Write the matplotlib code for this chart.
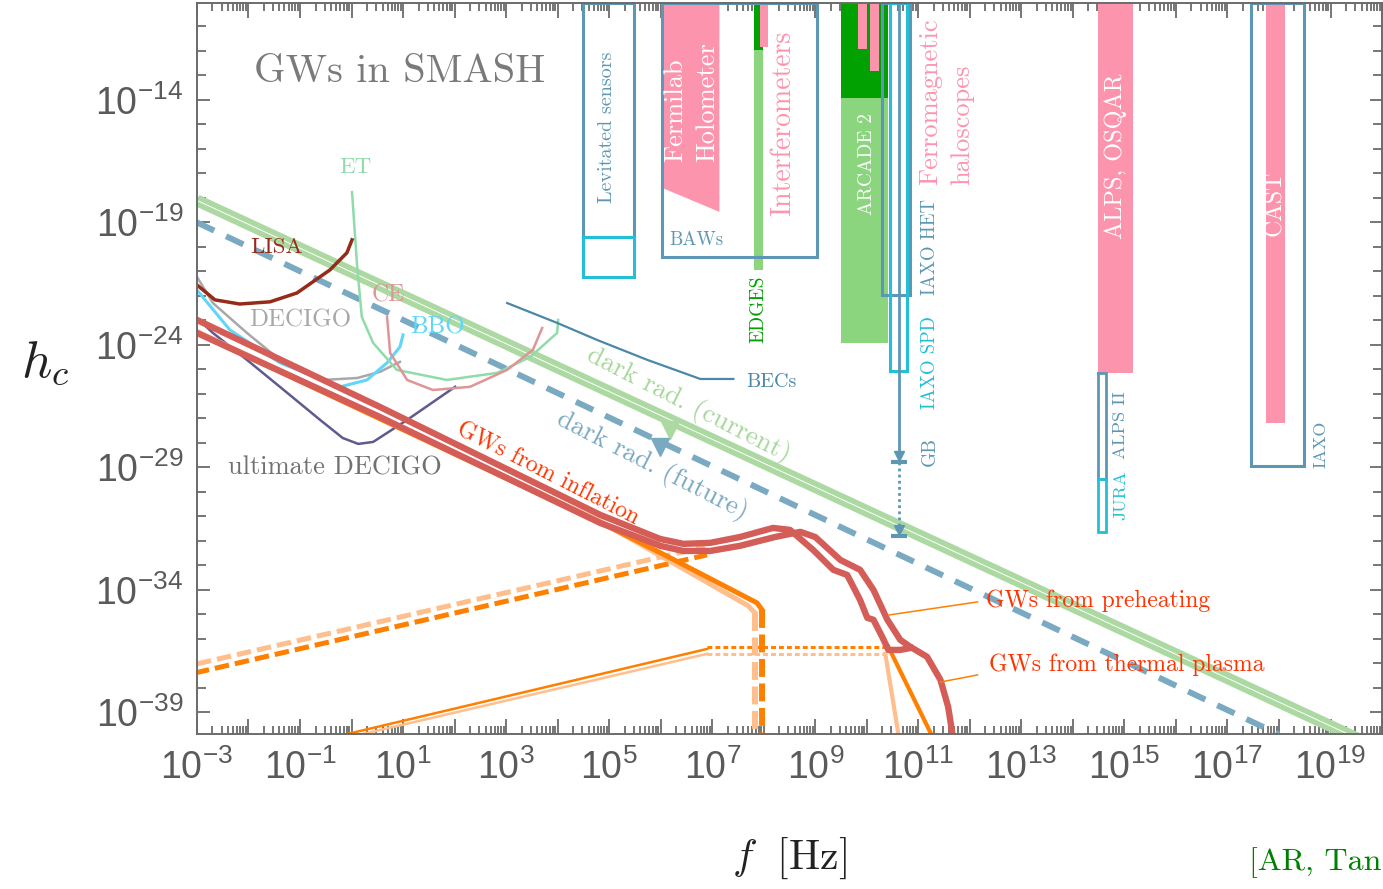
import numpy as np
import matplotlib
matplotlib.use("Agg")
import matplotlib.pyplot as plt
from matplotlib.ticker import FixedLocator, FuncFormatter, NullFormatter

plt.rcParams['mathtext.fontset'] = 'custom'
plt.rcParams['mathtext.rm'] = 'Liberation Sans'
plt.rcParams['mathtext.it'] = 'Liberation Sans:italic'
plt.rcParams['mathtext.bf'] = 'Liberation Sans:bold'

# all values below are log10(f / Hz) and log10(h_c)

# detector sensitivity curves
lisa_x = [-3.0, -2.65, -2.17, -1.58, -1.06, -0.42, -0.09, 0.01]
lisa_y = [-21.55, -22.16, -22.33, -22.24, -21.88, -20.94, -20.24, -19.71]
decigo_x = [-3.0, -2.69, -2.03, -1.39, -0.55, 0.11, 0.55, 0.94]
decigo_y = [-21.22, -22.29, -23.51, -24.61, -25.43, -25.35, -25.10, -24.69]
bbo_x = [-3.0, -2.36, -1.39, -0.22, 0.30, 0.69, 0.94, 1.0]
bbo_y = [-21.76, -23.39, -24.73, -25.71, -25.43, -24.73, -24.08, -23.59]
udecigo_x = [-3.0, -2.69, -2.03, -1.39, -0.61, -0.17, 0.13, 0.42, 1.08, 2.01]
udecigo_y = [-22.90, -23.51, -24.61, -25.71, -27.06, -27.80, -28.04, -27.96, -27.06, -25.71]
et_x = [0.01, 0.11, 0.20, 0.42, 0.88, 1.85, 2.83, 3.47, 3.99, 4.01]
et_y = [-17.76, -20.82, -22.86, -23.92, -25.02, -25.43, -25.14, -24.49, -23.51, -22.98]
ce_x = [0.69, 0.75, 1.08, 1.58, 2.30, 3.02, 3.52, 3.70]
ce_y = [-22.86, -24.33, -25.43, -25.84, -25.71, -25.02, -24.20, -23.31]
bec_x = [3.02, 3.99, 4.77, 5.74, 6.77, 7.41]
bec_y = [-22.29, -23.10, -23.80, -24.61, -25.39, -25.39]

# dark radiation bounds
darkrad_now_x = [-3.0, 20.0]
darkrad_now_y = [-18.10, -40.53]
darkrad_fut_x = [-3.0, 18.0]
darkrad_fut_y = [-19.0, -39.9]

# GWs from inflation + preheating + thermal plasma (total, two models)
total_a_x = [-3.0, 0.55, 4.83, 5.60, 5.99, 6.44, 6.96, 7.54, 8.18, 8.51, 8.96, 9.35,
             9.62, 9.87, 10.01, 10.13, 10.30, 10.42, 10.65, 10.85]
total_a_y = [-22.98, -26.53, -30.94, -31.59, -31.92, -32.12, -32.08, -31.84, -31.47,
             -31.55, -32.37, -33.18, -33.39, -34.41, -35.14, -35.22, -35.92, -36.45,
             -36.45, -36.37]
total_b_x = [-3.0, 0.55, 4.83, 5.60, 5.99, 6.44, 6.96, 7.54, 8.22, 8.71, 9.0, 9.49,
             9.87, 10.13, 10.40, 10.65, 10.85, 11.17, 11.43, 11.58, 11.68]
total_b_y = [-23.51, -26.94, -31.27, -31.88, -32.20, -32.41, -32.41, -32.20, -31.84,
             -31.63, -31.84, -32.78, -33.18, -34.0, -35.22, -36.04, -36.33, -36.73,
             -37.67, -38.78, -40.12]

# inflation part (dark = model 1, light = model 2)
infl_dark_x = [-3.0, 4.83, 5.99, 7.87, 7.97]
infl_dark_y = [-23.50, -31.25, -32.48, -34.53, -34.82]
infl_light_x = [-3.0, 4.83, 5.99, 7.70, 7.83]
infl_light_y = [-23.45, -31.20, -32.60, -34.65, -34.94]
cut_dark_x, cut_light_x = 7.97, 7.83
cut_dark_y, cut_light_y = [-34.82, -40.2], [-34.94, -40.2]

# preheating low-frequency tails
preh_dark_x = [-3.04, 6.90]
preh_dark_y = [-37.39, -32.57]
preh_light_x = [-3.0, 6.86]
preh_light_y = [-37.02, -32.24]

# thermal plasma
therm_dark_x = [-0.30, 6.90]
therm_dark_y = [-39.99, -36.41]
therm_light_x = [0.0, 6.90]
therm_light_y = [-39.99, -36.61]
therm_dark_flat_x = [6.90, 10.42]
therm_dark_flat_y = [-36.33, -36.33]
therm_light_flat_x = [6.90, 10.36]
therm_light_flat_y = [-36.61, -36.61]
therm_dark_tail_x = [10.42, 11.30]
therm_dark_tail_y = [-36.33, -40.1]
therm_light_tail_x = [10.36, 10.63]
therm_light_tail_y = [-36.61, -40.1]

# experiments (frequency band and reach)
top = -10.04
lev_x = [4.50, 5.49]
lev_bottom, lev_cyan_bottom = -19.59, -21.22
holo_x = [6.03, 7.14]
holo_bottom = [-17.59, -18.57]
baw_x = [6.03, 9.04]
baw_bottom = -20.41
interf_x = [7.92, 8.09]
interf_bottom = -11.84
edges_x = [7.82, 7.99]
edges_dark_bottom, edges_light_bottom = -11.96, -20.94
arcade_x = [9.50, 10.42]
arcade_dark_bottom, arcade_light_bottom = -13.92, -23.92
ferro1_x, ferro1_bottom = [9.83, 10.01], -11.92
ferro2_x, ferro2_bottom = [10.07, 10.24], -12.82
het_x, het_bottom = [10.30, 10.83], -21.96
spd_x, spd_bottom = [10.46, 10.79], -25.06
gb_x = 10.62
gb_y = [-28.78, -31.80]
alps_x, alps_bottom = [14.48, 15.17], -25.14
alps2_x, alps2_bottom, jura_bottom = [14.48, 14.65], -29.47, -31.63
cast_x, cast_bottom = [17.74, 18.11], -27.18
iaxo_x, iaxo_bottom = [17.45, 18.48], -28.94

x_major = list(range(-3, 21))
y_major = [-39, -34, -29, -24, -19, -14]
y_minor = list(range(-39, -9))


def P(v):
    return 10.0 ** np.asarray(v, dtype=float)


c_blue = '#5d97b4'
c_cyan = '#22bfd6'
c_pink = '#fd94ae'
c_dgreen = '#00a100'
c_lgreen = '#8bd57f'
c_red = '#d45d58'
c_orange = '#ff8000'
c_lorange = '#ffbe8c'
c_txt = '#ff3300'
serif = 'cmr10'

fig = plt.figure(figsize=(13.83, 8.89), dpi=100)
ax = fig.add_axes([0.1424, 0.1744, 0.8569, 0.8223])
ax.set_xscale('log')
ax.set_yscale('log')
ax.set_xlim(1e-3, 1e20)
ax.set_ylim(10 ** -39.88, 10 ** top)


def outline(xs, y0, y1, color, lw=2.2):
    ax.plot(P([xs[0], xs[0], xs[1], xs[1], xs[0]]), P([y0, y1, y1, y0, y0]),
            color=color, lw=lw, solid_joinstyle='miter', zorder=4)


def fillbar(xs, ytop, ybot, color):
    ax.fill(P([xs[0], xs[0], xs[1], xs[1]]), P([ytop, ybot, ybot, ytop]),
            color=color, lw=0, zorder=3)


# experiment bars
fillbar(arcade_x, arcade_dark_bottom, arcade_light_bottom, c_lgreen)
fillbar(arcade_x, top, arcade_dark_bottom, c_dgreen)
fillbar(ferro1_x, top, ferro1_bottom, c_pink)
fillbar(ferro2_x, top, ferro2_bottom, c_pink)
fillbar(edges_x, edges_dark_bottom, edges_light_bottom, c_lgreen)
fillbar(edges_x, top, edges_dark_bottom, c_dgreen)
fillbar(interf_x, top, interf_bottom, c_pink)
ax.fill(P([holo_x[0], holo_x[0], holo_x[1], holo_x[1]]),
        P([top, holo_bottom[0], holo_bottom[1], top]), color=c_pink, lw=0, zorder=3)
fillbar(alps_x, top, alps_bottom, c_pink)
fillbar(cast_x, top, cast_bottom, c_pink)

outline(lev_x, top, lev_bottom, c_blue)
outline(lev_x, lev_bottom, lev_cyan_bottom, c_cyan)
outline(baw_x, top, baw_bottom, c_blue)
outline(het_x, top, het_bottom, c_blue)
outline(spd_x, top, spd_bottom, c_cyan)
outline(alps2_x, alps_bottom, alps2_bottom, c_blue, lw=2)
outline(alps2_x, alps2_bottom, jura_bottom, c_cyan, lw=2)
outline(iaxo_x, top, iaxo_bottom, c_blue)

# GB arrow
ax.plot(P([gb_x, gb_x]), P([top, gb_y[0] + 0.15]), color=c_blue, lw=2, zorder=4)
ax.plot(P([gb_x, gb_x]), P([gb_y[0], gb_y[1] + 0.15]), color=c_blue, lw=2,
        ls=(0, (1, 1.2)), zorder=4)
for yy in gb_y:
    ax.plot(P(gb_x), P(yy + 0.25), marker='v', ms=7, color=c_blue, zorder=4)
    ax.plot(P(gb_x), P(yy), marker='_', ms=11, mew=3, color=c_blue, zorder=4)

# dark radiation bounds
ax.plot(P(darkrad_now_x), P(darkrad_now_y), color='#acd9a2', lw=8.5,
        solid_capstyle='butt', zorder=2)
ax.plot(P(darkrad_now_x), P(darkrad_now_y), color='white', lw=0.7, zorder=2)
ax.plot(P(darkrad_fut_x), P(darkrad_fut_y), color='#7aa9c2', lw=4.3,
        dashes=(3.2, 2.2), zorder=2)
ax.plot(P(6.18), P(-27.47), marker='v', ms=13, color='#acd9a2', zorder=2)
ax.plot(P(5.99), P(-28.16), marker='v', ms=13, color='#7aa9c2', zorder=2)

# detector curves
ax.plot(P(udecigo_x), P(udecigo_y), color='#5e5b8f', lw=1.8, zorder=5)
ax.plot(P(decigo_x), P(decigo_y), color='#a8a8a8', lw=1.8, zorder=5)
ax.plot(P(bbo_x), P(bbo_y), color='#5fd6fa', lw=2.2, zorder=5)
ax.plot(P(et_x), P(et_y), color='#8fdcaa', lw=1.8, zorder=5)
ax.plot(P(ce_x), P(ce_y), color='#df9595', lw=1.8, zorder=5)
ax.plot(P(lisa_x), P(lisa_y), color='#962b1a', lw=2.5, zorder=5)
ax.plot(P(bec_x), P(bec_y), color='#4b87a8', lw=1.6, zorder=5)

# GW spectra
ax.plot(P(preh_light_x), P(preh_light_y), color=c_lorange, lw=3.6, dashes=(2.9, 1.2), zorder=6)
ax.plot(P(preh_dark_x), P(preh_dark_y), color=c_orange, lw=3.6, dashes=(2.9, 1.2), zorder=6)
ax.plot(P(therm_light_x), P(therm_light_y), color=c_lorange, lw=1.8, zorder=6)
ax.plot(P(therm_dark_x), P(therm_dark_y), color=c_orange, lw=1.8, zorder=6)
ax.plot(P(therm_light_flat_x), P(therm_light_flat_y), color=c_lorange, lw=2.2,
        dashes=(1.6, 1.0), zorder=6)
ax.plot(P(therm_dark_flat_x), P(therm_dark_flat_y), color=c_orange, lw=2.2,
        dashes=(1.6, 1.0), zorder=6)
ax.plot(P(therm_light_tail_x), P(therm_light_tail_y), color=c_lorange, lw=3, zorder=6)
ax.plot(P(therm_dark_tail_x), P(therm_dark_tail_y), color=c_orange, lw=3, zorder=6)
ax.plot(P(infl_light_x), P(infl_light_y), color=c_lorange, lw=3.6, zorder=6)
ax.plot(P(infl_dark_x), P(infl_dark_y), color=c_orange, lw=3.6, zorder=6)
ax.plot(P([cut_light_x] * 2), P(cut_light_y), color=c_lorange, lw=4.3, dashes=(3, 1.1), zorder=6)
ax.plot(P([cut_dark_x] * 2), P(cut_dark_y), color=c_orange, lw=4.3, dashes=(3, 1.1), zorder=6)
ax.plot(P(total_a_x), P(total_a_y), color=c_red, lw=4.6, zorder=7,
        solid_joinstyle='round')
ax.plot(P(total_b_x), P(total_b_y), color=c_red, lw=4.6, zorder=7,
        solid_joinstyle='round')

# pointer lines
ax.plot(P([10.44, 12.15]), P([-35.02, -34.49]), color=c_orange, lw=1.1, zorder=7)
ax.plot(P([11.43, 12.15]), P([-37.76, -37.47]), color=c_orange, lw=1.1, zorder=7)


def label(x, y, s, color, size, rot=0, ha='center', va='center', **kw):
    ax.text(P(x), P(y), s, color=color, fontsize=size, rotation=rot,
            rotation_mode='anchor', ha=ha, va=va, family=serif, zorder=8, **kw)


label(0.94, -12.86, 'GWs in SMASH', '#7a7a7a', 29)
label(0.07, -16.73, 'ET', '#8fdcaa', 16.5)
label(-1.45, -20.0, 'LISA', '#962b1a', 16.5)
label(0.71, -22.0, 'CE', '#df9595', 17)
label(-1.0, -22.98, 'DECIGO', '#a8a8a8', 18)
label(1.66, -23.27, 'BBO', '#5fd6fa', 18)
label(-0.32, -29.02, 'ultimate DECIGO', '#707070', 19)
label(8.15, -25.51, 'BECs', '#4b87a8', 14.5)
label(6.53, -26.45, 'dark rad. (current)', '#a6d79c', 19.5, rot=-27)
label(5.83, -28.94, 'dark rad. (future)', '#7aa9c2', 19.5, rot=-27)
label(3.80, -29.27, 'GWs from inflation', c_txt, 17, rot=-27)
label(12.32, -34.45, 'GWs from preheating', c_txt, 17, ha='left')
label(12.38, -37.06, 'GWs from thermal plasma', c_txt, 17, ha='left')

label(4.96, -15.10, 'Levitated sensors', c_blue, 14.5, rot=90)
label(6.28, -16.53, 'Fermilab', 'white', 19, rot=90, ha='left')
label(6.90, -16.53, 'Holometer', 'white', 19, rot=90, ha='left')
label(6.69, -19.71, 'BAWs', c_blue, 13.5)
label(8.38, -14.94, 'Interferometers', c_pink, 20, rot=90)
label(7.89, -22.53, 'EDGES', c_dgreen, 14, rot=90)
label(10.01, -16.61, 'ARCADE 2', 'white', 14, rot=90)
label(11.23, -17.47, 'Ferromagnetic', c_pink, 19, rot=90, ha='left')
label(11.85, -17.47, 'haloscopes', c_pink, 19, rot=90, ha='left')
label(11.23, -21.96, 'IAXO HET', c_blue, 13.5, rot=90, ha='left')
label(11.23, -26.61, 'IAXO SPD', c_cyan, 13.5, rot=90, ha='left')
label(11.23, -28.94, 'GB', c_blue, 14, rot=90, ha='left')
label(14.83, -16.29, 'ALPS, OSQAR', 'white', 17.5, rot=90)
label(14.92, -28.65, 'ALPS II', c_blue, 13.3, rot=90, ha='left')
label(14.92, -31.14, 'JURA', c_cyan, 13, rot=90, ha='left')
label(17.93, -18.24, 'CAST', 'white', 17, rot=90)
label(18.81, -29.02, 'IAXO', c_blue, 13, rot=90, ha='left')

# axes styling
for sp in ax.spines.values():
    sp.set_color('#6b6b6b')
    sp.set_linewidth(1.4)
    sp.set_zorder(9)

ax.xaxis.set_major_locator(FixedLocator(P(x_major)))
ax.xaxis.set_minor_locator(FixedLocator(
    [m * 10.0 ** k for k in x_major[:-1] for m in range(2, 10)]))
ax.yaxis.set_major_locator(FixedLocator(P(y_major)))
ax.yaxis.set_minor_locator(FixedLocator(P(y_minor)))


def xfmt(v, pos):
    k = int(round(np.log10(v)))
    return r'$10^{%d}$' % k if k % 2 else ''


ax.xaxis.set_major_formatter(FuncFormatter(xfmt))
ax.yaxis.set_major_formatter(FuncFormatter(lambda v, pos: r'$10^{%d}$' % int(round(np.log10(v)))))
ax.xaxis.set_minor_formatter(NullFormatter())
ax.yaxis.set_minor_formatter(NullFormatter())

ax.tick_params(which='both', direction='in', top=True, right=True,
               color='#6b6b6b', width=1.3, labelcolor='#5a5a5a', labelsize=27)
ax.tick_params(axis='x', which='major', length=11, pad=11)
ax.tick_params(axis='x', which='minor', length=5.5)
ax.tick_params(axis='y', which='major', length=9, pad=10)
ax.tick_params(axis='y', which='minor', length=6.5)

fig.text(0.571, 0.035, r'$f\ \ [\mathrm{Hz}]$', fontsize=30, math_fontfamily='cm',
         ha='center', va='center', color='#222222')
fig.text(0.0325, 0.593, r'$h_c$', fontsize=38, math_fontfamily='cm',
         ha='center', va='center', color='#222222')
fig.text(0.903, 0.030, '[AR, Tan', fontsize=23, family=serif,
         color='#008000', ha='left', va='center')

fig.savefig('out.png', dpi=100)
